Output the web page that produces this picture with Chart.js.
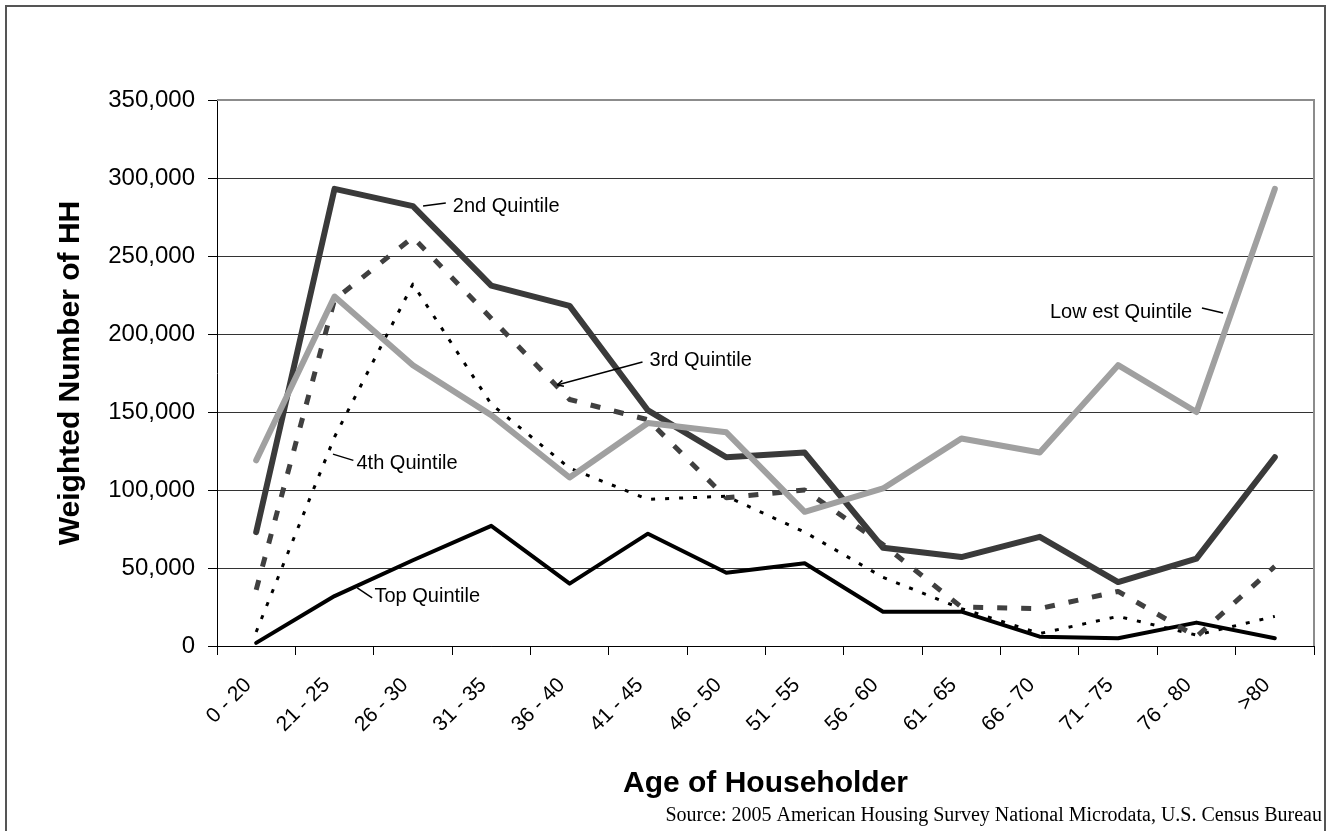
<!DOCTYPE html>
<html>
<head>
<meta charset="utf-8">
<script src="https://cdn.jsdelivr.net/npm/chart.js@4.4.1/dist/chart.umd.min.js"></script>
<style>
html, body { margin: 0; padding: 0; background: #fff; }
#wrap { position: relative; width: 1329px; height: 831px; overflow: hidden; }
#frame { position: absolute; left: 5px; top: 5px; width: 1321px; height: 860px; border: 2px solid #555; box-sizing: border-box; }
#c { position: absolute; left: 0; top: 0; }
</style>
</head>
<body>
<div id="wrap">
  <div id="frame"></div>
  <canvas id="c" width="1329" height="831"></canvas>
</div>
<script>
// age groups on the x axis
var ageGroups = ["0 - 20", "21 - 25", "26 - 30", "31 - 35", "36 - 40", "41 - 45", "46 - 50",
                 "51 - 55", "56 - 60", "61 - 65", "66 - 70", "71 - 75", "76 - 80", ">80"];

// weighted number of households per income quintile
var lowestQuintile = [119000, 224000, 180000, 148000, 108000, 143000, 137000, 86000, 101000, 133000, 124000, 180000, 150000, 293000];
var secondQuintile = [73000, 293000, 282000, 231000, 218000, 151000, 121000, 124000, 63000, 57000, 70000, 41000, 56000, 121000];
var thirdQuintile  = [36000, 222000, 262000, 210000, 158000, 145000, 95000, 100000, 65000, 25000, 24000, 35000, 6000, 51000];
var fourthQuintile = [9000, 134000, 232000, 155000, 114000, 94000, 96000, 73000, 44000, 24000, 8000, 19000, 7000, 19000];
var topQuintile    = [2000, 32000, 55000, 77000, 40000, 72000, 47000, 53000, 22000, 22000, 6000, 5000, 15000, 5000];

var yTicks = { min: 0, max: 350000, step: 50000 };

// series labels written in the plot, with leader lines (x = category index, y = value)
var callouts = [
    { text: "2nd Quintile",     from: [2.13, 282000], to: [2.42, 284000], at: [2.51, 282000] },
    { text: "3rd Quintile",     from: [3.84, 167300], to: [4.93, 182000], at: [5.02, 183300], arrow: true },
    { text: "4th Quintile",     from: [0.98, 123000], to: [1.24, 119000], at: [1.28, 117300] },
    { text: "Top Quintile",     from: [1.29, 37200],  to: [1.48, 30800],  at: [1.51, 32000] },
    { text: "Low est Quintile", from: [12.34, 213500], to: [12.07, 216700], at: [10.13, 214000] }
];

var sourceNote = "Source: 2005 American Housing Survey National Microdata, U.S. Census Bureau";

var calloutPlugin = {
    id: "callouts",
    beforeDatasetsDraw: function(chart) {
        var ctx = chart.ctx, a = chart.chartArea;
        ctx.save();
        ctx.strokeStyle = "#8c8c8c";
        ctx.lineWidth = 2;
        ctx.beginPath();
        ctx.moveTo(a.left, a.top);
        ctx.lineTo(a.right, a.top);
        ctx.lineTo(a.right, a.bottom);
        ctx.stroke();
        ctx.restore();
    },
    afterDatasetsDraw: function(chart) {
        var ctx = chart.ctx, xs = chart.scales.x, ys = chart.scales.y;
        ctx.save();
        ctx.font = "20px Arial, 'Liberation Sans', sans-serif";
        ctx.textBaseline = "middle";
        ctx.textAlign = "left";
        ctx.fillStyle = "#000";
        ctx.strokeStyle = "#000";
        ctx.lineWidth = 1.5;
        callouts.forEach(function(c) {
            var x1 = xs.getPixelForValue(c.from[0]), y1 = ys.getPixelForValue(c.from[1]);
            var x2 = xs.getPixelForValue(c.to[0]), y2 = ys.getPixelForValue(c.to[1]);
            ctx.beginPath();
            ctx.moveTo(x1, y1);
            ctx.lineTo(x2, y2);
            ctx.stroke();
            if (c.arrow) {
                var ang = Math.atan2(y1 - y2, x1 - x2);
                ctx.beginPath();
                ctx.moveTo(x1, y1);
                ctx.lineTo(x1 - 7 * Math.cos(ang - 0.45), y1 - 7 * Math.sin(ang - 0.45));
                ctx.moveTo(x1, y1);
                ctx.lineTo(x1 - 7 * Math.cos(ang + 0.45), y1 - 7 * Math.sin(ang + 0.45));
                ctx.stroke();
            }
            ctx.fillText(c.text, xs.getPixelForValue(c.at[0]), ys.getPixelForValue(c.at[1]));
        });
        ctx.restore();
    },
    afterDraw: function(chart) {
        var ctx = chart.ctx;
        ctx.save();
        ctx.font = "20px 'Times New Roman', 'Liberation Serif', serif";
        ctx.textAlign = "right";
        ctx.textBaseline = "middle";
        ctx.fillStyle = "#000";
        ctx.fillText(sourceNote, 1322, 816);
        ctx.restore();
    }
};

new Chart(document.getElementById("c"), {
    type: "line",
    data: {
        labels: ageGroups,
        datasets: [
            { label: "Lowest Quintile", data: lowestQuintile, borderColor: "#a0a0a0", borderWidth: 6, borderCapStyle: "round" },
            { label: "3rd Quintile", data: thirdQuintile, borderColor: "#404040", borderWidth: 5, borderDash: [10, 14] },
            { label: "4th Quintile", data: fourthQuintile, borderColor: "#000", borderWidth: 3, borderDash: [4, 10] },
            { label: "Top Quintile", data: topQuintile, borderColor: "#000", borderWidth: 4, borderCapStyle: "round" },
            { label: "2nd Quintile", data: secondQuintile, borderColor: "#3a3a3a", borderWidth: 6, borderCapStyle: "round" }
        ]
    },
    options: {
        responsive: false,
        animation: false,
        events: [],
        layout: { padding: { left: 0, top: 100, right: 15, bottom: 0 } },
        elements: {
            point: { radius: 0 },
            line: { tension: 0, fill: false, borderJoinStyle: "round" }
        },
        plugins: {
            legend: { display: false },
            tooltip: { enabled: false }
        },
        scales: {
            x: {
                offset: true,
                afterFit: function(s) { s.height = 185; },
                grid: { offset: true, drawOnChartArea: false, drawTicks: true, tickLength: 9, color: "#000" },
                border: { color: "#000", width: 1 },
                ticks: {
                    color: "#000",
                    font: { family: "Arial, 'Liberation Sans', sans-serif", size: 21 },
                    minRotation: 45,
                    maxRotation: 45,
                    autoSkip: false,
                    padding: 18,
                    labelOffset: -8
                },
                title: {
                    display: true,
                    text: "Age of Householder",
                    color: "#000",
                    font: { family: "Arial, 'Liberation Sans', sans-serif", size: 30, weight: "bold" },
                    padding: { top: 0, bottom: 29 }
                }
            },
            y: {
                min: yTicks.min,
                max: yTicks.max,
                afterFit: function(s) { s.width = 217; },
                grid: { color: "#333", lineWidth: 1, tickLength: 9, tickColor: "#000" },
                border: { color: "#000", width: 1 },
                ticks: {
                    stepSize: yTicks.step,
                    color: "#000",
                    padding: 13,
                    font: { family: "Arial, 'Liberation Sans', sans-serif", size: 24 },
                    callback: function(v) { return v.toLocaleString("en-US"); }
                },
                title: {
                    display: true,
                    text: "Weighted Number of HH",
                    color: "#000",
                    font: { family: "Arial, 'Liberation Sans', sans-serif", size: 30, weight: "bold" },
                    padding: { top: 53, bottom: 0 }
                }
            }
        }
    },
    plugins: [calloutPlugin]
});
</script>
</body>
</html>
